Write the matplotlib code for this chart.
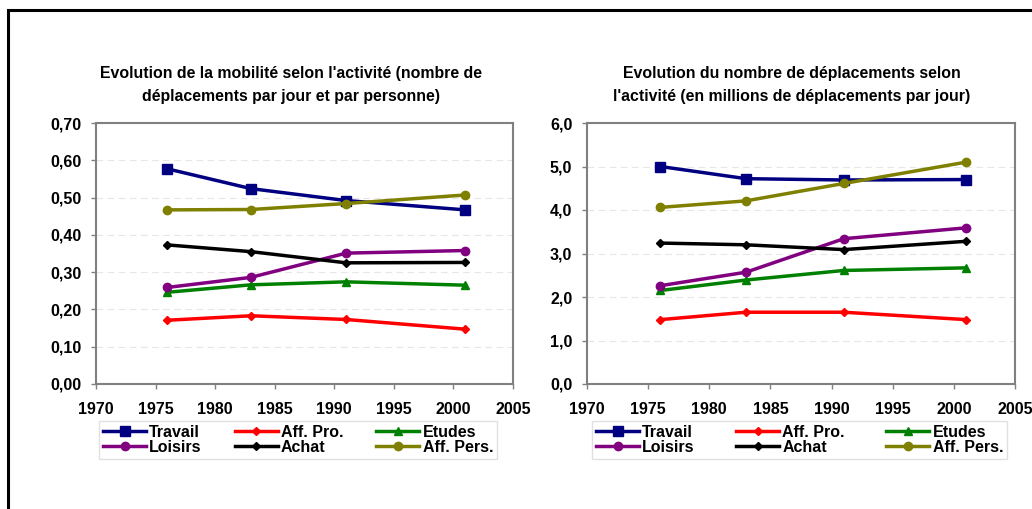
import matplotlib.pyplot as plt
from matplotlib.patches import Rectangle

plt.rcParams['font.family'] = ['Liberation Sans', 'DejaVu Sans']
plt.rcParams['font.weight'] = 'bold'

years = [1976, 1983, 1991, 2001]

labels = ['Travail', 'Aff. Pro.', 'Etudes', 'Loisirs', 'Achat', 'Aff. Pers.']
colors = ['#000080', '#ff0000', '#008000', '#800080', '#000000', '#808000']
markers = ['s', 'D', '^', 'o', 'D', 'o']
msizes = [6.5, 4, 6, 6, 4, 6]

# mobilite : deplacements par jour et par personne
mob_travail = [0.577, 0.524, 0.492, 0.467]
mob_affpro = [0.171, 0.183, 0.173, 0.147]
mob_etudes = [0.246, 0.266, 0.274, 0.265]
mob_loisirs = [0.259, 0.286, 0.351, 0.358]
mob_achat = [0.373, 0.355, 0.325, 0.326]
mob_affpers = [0.467, 0.468, 0.484, 0.507]

# millions de deplacements par jour
dep_travail = [5.00, 4.72, 4.69, 4.70]
dep_affpro = [1.48, 1.65, 1.65, 1.48]
dep_etudes = [2.15, 2.39, 2.61, 2.67]
dep_loisirs = [2.26, 2.57, 3.34, 3.59]
dep_achat = [3.24, 3.20, 3.09, 3.28]
dep_affpers = [4.06, 4.21, 4.61, 5.10]

W, H = 1032, 509


def fig_box(x0, y_top, x1, y_bot):
    return [x0 / W, 1 - y_bot / H, (x1 - x0) / W, (y_bot - y_top) / H]


def draw_panel(ax, series, ymax, ystep, fmt, title, title_x, leg_box):
    for i in range(len(series)):
        ax.plot(years, series[i], color=colors[i], marker=markers[i],
                markersize=msizes[i], linewidth=2.5, label=labels[i],
                clip_on=False)
    ax.set_xlim(1970, 2005)
    ax.set_ylim(0, ymax)
    ax.set_xticks(range(1970, 2006, 5))
    nt = int(round(ymax / ystep))
    yt = [k * ystep for k in range(nt + 1)]
    ax.set_yticks(yt)
    ax.set_yticklabels([fmt.format(v).replace('.', ',') for v in yt])
    ax.tick_params(axis='both', labelsize=11.5, length=3.6, color='#808080',
                   width=1)
    ax.tick_params(axis='x', pad=9)
    ax.tick_params(axis='y', pad=7)
    for lab in ax.get_xticklabels() + ax.get_yticklabels():
        lab.set_fontweight('bold')
    for s in ax.spines.values():
        s.set_color('#808080')
        s.set_linewidth(1.5)
    ax.grid(axis='y', linestyle=(0, (6, 4)), color='#e6e6e6', linewidth=0.8)
    ax.set_axisbelow(True)

    fig.text(title_x / W, 1 - 85 / H, title, ha='center', va='center',
             fontsize=11.4, fontweight='bold', linespacing=1.6)

    h, l = ax.get_legend_handles_labels()
    order = [0, 3, 1, 4, 2, 5]
    x0, y0, x1, y1 = leg_box
    leg = ax.legend([h[k] for k in order], [l[k] for k in order], ncol=3,
                    loc='upper left', mode='expand',
                    bbox_to_anchor=(x0 / W, 1 - y0 / H, (x1 - x0) / W, 0),
                    bbox_transform=fig.transFigure,
                    frameon=True, fancybox=False, edgecolor='#d9d9d9',
                    borderpad=0.25, labelspacing=0.0, handlelength=2.7,
                    handletextpad=0.2, borderaxespad=0, columnspacing=1.0,
                    prop={'weight': 'bold', 'size': 11.5})
    leg.get_frame().set_linewidth(1.0)


fig = plt.figure(figsize=(W / 100, H / 100), dpi=100)

# cadre noir
fig.patches.append(Rectangle((8 / W, -0.1), 1.2, 1 - 9.5 / H + 0.1,
                             transform=fig.transFigure, fill=False,
                             edgecolor='black', linewidth=2.2))

ax1 = fig.add_axes(fig_box(96, 123, 513, 384))
draw_panel(ax1, [mob_travail, mob_affpro, mob_etudes, mob_loisirs,
                 mob_achat, mob_affpers],
           0.70, 0.10, '{:.2f}',
           "Evolution de la mobilité selon l'activité (nombre de\n"
           "déplacements par jour et par personne)",
           291, (99, 421, 497, 459))

ax2 = fig.add_axes(fig_box(587, 123, 1015, 384))
draw_panel(ax2, [dep_travail, dep_affpro, dep_etudes, dep_loisirs,
                 dep_achat, dep_affpers],
           6.0, 1.0, '{:.1f}',
           "Evolution du nombre de déplacements selon\n"
           "l'activité (en millions de déplacements par jour)",
           792, (592, 421, 1007, 459))

fig.savefig('out.png', dpi=100)
